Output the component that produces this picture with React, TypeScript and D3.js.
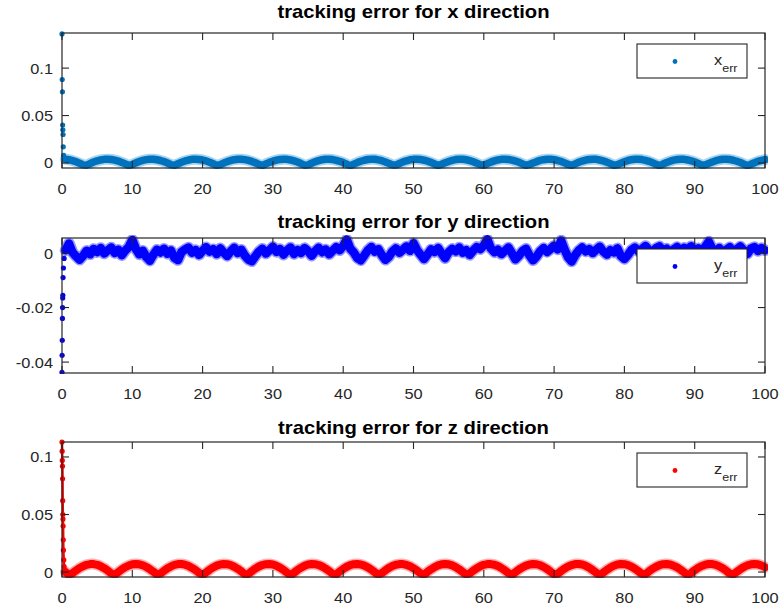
import { useEffect, useRef } from 'react';
import * as d3 from 'd3';

const W = 783;
const H = 606;
const PLOT_LEFT = 62;
const PLOT_RIGHT = 765;
const PLOT_H = 135;
const FONT = '"Liberation Sans", Arial, Helvetica, sans-serif';
const AXIS_COLOR = '#262626';

const xTickValues = [0, 10, 20, 30, 40, 50, 60, 70, 80, 90, 100];

// steady part is sampled every 0.5 s from t = 0.5 to t = 100
const sampleTimes = d3.range(1, 201).map(k => k * 0.5);

// start-up transient (dense samples close to t = 0)
const xStartTimes = [0, 0.03, 0.06, 0.09, 0.12, 0.15, 0.18, 0.22, 0.3];
const xStartValues = [0.136, 0.088, 0.075, 0.04, 0.035, 0.03, 0.017, 0.008, 0.004];
const yStartTimes = [0, 0.02, 0.04, 0.06, 0.08, 0.1, 0.12, 0.15, 0.2, 0.3];
const yStartValues = [-0.0438, -0.0375, -0.032, -0.024, -0.02, -0.0165, -0.0155, -0.009, -0.0055, -0.002];
const zStartTimes = [0, 0.02, 0.04, 0.06, 0.08, 0.1, 0.12, 0.14, 0.16, 0.18, 0.2, 0.25, 0.3, 0.4];
const zStartValues = [0.113, 0.105, 0.097, 0.092, 0.081, 0.062, 0.05, 0.046, 0.04, 0.028, 0.019, 0.0105, 0.0047, 0.0005];

const xErr = [
  0.0039, 0.0034, 0.0025, 0.0012, -0.0003, -0.0020, -0.0023, -0.0006, 0.0010, 0.0023,
  0.0032, 0.0038, 0.0040, 0.0037, 0.0030, 0.0020, 0.0006, -0.0010, -0.0027, -0.0016,
  0.0001, 0.0015, 0.0027, 0.0035, 0.0040, 0.0039, 0.0034, 0.0026, 0.0015, 0.0000,
  -0.0017, -0.0025, -0.0008, 0.0008, 0.0021, 0.0031, 0.0038, 0.0040, 0.0037, 0.0031,
  0.0021, 0.0008, -0.0008, -0.0025, -0.0018, -0.0001, 0.0014, 0.0026, 0.0035, 0.0039,
  0.0040, 0.0035, 0.0027, 0.0016, 0.0002, -0.0015, -0.0027, -0.0010, 0.0006, 0.0019,
  0.0030, 0.0037, 0.0040, 0.0038, 0.0032, 0.0022, 0.0010, -0.0006, -0.0023, -0.0020,
  -0.0003, 0.0012, 0.0025, 0.0034, 0.0039, 0.0040, 0.0036, 0.0028, 0.0018, 0.0004,
  -0.0013, -0.0030, -0.0012, 0.0004, 0.0018, 0.0029, 0.0037, 0.0040, 0.0039, 0.0033,
  0.0024, 0.0011, -0.0004, -0.0021, -0.0022, -0.0005, 0.0011, 0.0023, 0.0033, 0.0038,
  0.0040, 0.0036, 0.0029, 0.0019, 0.0006, -0.0011, -0.0028, -0.0014, 0.0002, 0.0016,
  0.0028, 0.0036, 0.0040, 0.0039, 0.0034, 0.0025, 0.0013, -0.0002, -0.0018, -0.0024,
  -0.0007, 0.0009, 0.0022, 0.0032, 0.0038, 0.0040, 0.0037, 0.0030, 0.0020, 0.0007,
  -0.0009, -0.0026, -0.0016, 0.0000, 0.0014, 0.0027, 0.0035, 0.0039, 0.0040, 0.0035,
  0.0026, 0.0016, 0.0001, -0.0016, -0.0026, -0.0009, 0.0007, 0.0020, 0.0031, 0.0037,
  0.0040, 0.0038, 0.0031, 0.0021, 0.0009, -0.0007, -0.0024, -0.0019, -0.0002, 0.0013,
  0.0026, 0.0035, 0.0039, 0.0040, 0.0036, 0.0028, 0.0017, 0.0003, -0.0014, -0.0029,
  -0.0011, 0.0005, 0.0019, 0.0030, 0.0037, 0.0040, 0.0038, 0.0032, 0.0023, 0.0010,
  -0.0005, -0.0022, -0.0021, -0.0004, 0.0011, 0.0024, 0.0034, 0.0039, 0.0040, 0.0036,
  0.0029, 0.0018, 0.0005, -0.0012, -0.0029, -0.0013, 0.0003, 0.0017, 0.0028, 0.0036,
];

const yErr = [
  0.0010, 0.0035, 0.0002, -0.0012, -0.0025, -0.0010, 0.0008, -0.0005, 0.0015, 0.0003,
  0.0018, -0.0002, 0.0010, 0.0020, 0.0000, 0.0012, -0.0008, 0.0009, 0.0022, 0.0048,
  0.0015, -0.0005, 0.0008, -0.0015, -0.0028, -0.0006, 0.0012, 0.0002, 0.0016, -0.0003,
  0.0009, -0.0018, -0.0026, 0.0004, 0.0013, 0.0020, 0.0001, 0.0011, -0.0007, 0.0008,
  0.0021, 0.0005, 0.0014, -0.0004, 0.0017, 0.0002, -0.0011, 0.0006, 0.0019, 0.0000,
  0.0012, -0.0009, -0.0024, -0.0030, -0.0012, 0.0005, 0.0016, -0.0002, 0.0010, 0.0023,
  0.0004, 0.0015, -0.0006, 0.0009, 0.0020, -0.0004, 0.0011, 0.0000, 0.0018, 0.0007,
  -0.0010, 0.0006, 0.0019, 0.0003, 0.0013, -0.0005, 0.0008, 0.0021, 0.0010, 0.0026,
  0.0049, 0.0016, 0.0002, -0.0018, -0.0027, -0.0009, 0.0010, 0.0022, 0.0005, 0.0014,
  -0.0008, -0.0025, -0.0014, 0.0006, 0.0017, 0.0001, 0.0012, 0.0024, 0.0008, 0.0036,
  0.0011, -0.0006, -0.0022, -0.0005, 0.0013, 0.0004, 0.0018, -0.0002, -0.0019, 0.0003,
  0.0015, 0.0006, 0.0020, 0.0001, 0.0010, -0.0007, 0.0009, 0.0022, 0.0014, 0.0028,
  0.0050, 0.0017, 0.0003, 0.0012, -0.0004, 0.0008, 0.0020, -0.0001, -0.0023, -0.0010,
  0.0007, 0.0016, -0.0009, -0.0027, -0.0013, 0.0006, 0.0018, 0.0004, 0.0015, 0.0027,
  0.0013, 0.0046, 0.0012, -0.0016, -0.0031, -0.0008, 0.0009, 0.0020, 0.0006, 0.0014,
  0.0000, 0.0012, 0.0023, 0.0005, -0.0006, 0.0010, 0.0002, 0.0017, -0.0011, -0.0022,
  -0.0007, 0.0011, 0.0020, 0.0006, 0.0015, 0.0026, 0.0010, 0.0003, 0.0018, 0.0024,
  0.0009, 0.0016, 0.0002, 0.0013, 0.0022, 0.0007, 0.0019, 0.0011, 0.0025, 0.0008,
  0.0017, 0.0004, 0.0023, 0.0042, 0.0015, 0.0006, 0.0018, 0.0001, 0.0012, 0.0021,
  0.0005, 0.0014, 0.0024, 0.0009, -0.0003, 0.0016, 0.0022, 0.0007, 0.0018, 0.0010,
];

const zErr = [
  0.0000, -0.0025, -0.0010, 0.0014, 0.0035, 0.0051, 0.0063, 0.0069, 0.0069, 0.0063,
  0.0051, 0.0034, 0.0013, -0.0011, -0.0024, 0.0000, 0.0023, 0.0042, 0.0057, 0.0067,
  0.0070, 0.0067, 0.0059, 0.0044, 0.0025, 0.0003, -0.0022, -0.0013, 0.0011, 0.0032,
  0.0049, 0.0062, 0.0069, 0.0070, 0.0064, 0.0053, 0.0036, 0.0016, -0.0008, -0.0027,
  -0.0003, 0.0020, 0.0040, 0.0056, 0.0066, 0.0070, 0.0068, 0.0060, 0.0046, 0.0028,
  0.0006, -0.0019, -0.0017, 0.0008, 0.0030, 0.0048, 0.0061, 0.0068, 0.0070, 0.0065,
  0.0054, 0.0039, 0.0019, -0.0005, -0.0029, -0.0006, 0.0018, 0.0038, 0.0054, 0.0065,
  0.0070, 0.0068, 0.0061, 0.0048, 0.0030, 0.0009, -0.0016, -0.0020, 0.0005, 0.0027,
  0.0046, 0.0060, 0.0068, 0.0070, 0.0066, 0.0056, 0.0041, 0.0021, -0.0002, -0.0026,
  -0.0009, 0.0015, 0.0036, 0.0052, 0.0064, 0.0069, 0.0069, 0.0062, 0.0050, 0.0033,
  0.0012, -0.0012, -0.0023, 0.0002, 0.0024, 0.0043, 0.0058, 0.0067, 0.0070, 0.0067,
  0.0058, 0.0043, 0.0024, 0.0001, -0.0023, -0.0012, 0.0012, 0.0033, 0.0050, 0.0063,
  0.0069, 0.0069, 0.0064, 0.0052, 0.0035, 0.0015, -0.0009, -0.0026, -0.0001, 0.0022,
  0.0041, 0.0056, 0.0066, 0.0070, 0.0068, 0.0059, 0.0045, 0.0027, 0.0004, -0.0020,
  -0.0015, 0.0009, 0.0031, 0.0049, 0.0061, 0.0069, 0.0070, 0.0065, 0.0054, 0.0038,
  0.0017, -0.0006, -0.0029, -0.0004, 0.0019, 0.0039, 0.0055, 0.0065, 0.0070, 0.0068,
  0.0061, 0.0047, 0.0029, 0.0007, -0.0017, -0.0018, 0.0006, 0.0028, 0.0046, 0.0060,
  0.0068, 0.0070, 0.0066, 0.0055, 0.0040, 0.0020, -0.0003, -0.0028, -0.0008, 0.0016,
  0.0037, 0.0053, 0.0064, 0.0070, 0.0069, 0.0062, 0.0049, 0.0032, 0.0011, -0.0014,
  -0.0021, 0.0003, 0.0025, 0.0044, 0.0059, 0.0067, 0.0070, 0.0067, 0.0057, 0.0042,
];

const panels = [
  {
    title: 'tracking error for x direction', label: 'x', color: '#0072bd', halo: '#4fa9e3',
    top: 33, titleY: 18, domain: [-0.0053, 0.137], ticks: [0, 0.05, 0.1],
    startTimes: xStartTimes, startValues: xStartValues, values: xErr, joinStart: false,
    lineW: 7.5, haloW: 11,
  },
  {
    title: 'tracking error for y direction', label: 'y', color: '#0000ff', halo: '#2d2dff',
    top: 238, titleY: 228, domain: [-0.044, 0.0055], ticks: [-0.04, -0.02, 0],
    startTimes: yStartTimes, startValues: yStartValues, values: yErr, joinStart: false,
    lineW: 8.5, haloW: 11.5,
  },
  {
    title: 'tracking error for z direction', label: 'z', color: '#ff0000', halo: '#ff5c5c',
    top: 442, titleY: 434, domain: [-0.0043, 0.113], ticks: [0, 0.05, 0.1],
    startTimes: zStartTimes, startValues: zStartValues, values: zErr, joinStart: true,
    lineW: 8, haloW: 11,
  },
];

export default function App() {
  const svgRef = useRef<SVGSVGElement>(null);

  useEffect(() => {
    if (!svgRef.current) return;
    const svg = d3.select(svgRef.current);
    svg.selectAll('*').remove();

    const x = d3.scaleLinear().domain([0, 100]).range([PLOT_LEFT, PLOT_RIGHT]);
    const tickLen = 7;

    panels.forEach((p, i) => {
      const bottom = p.top + PLOT_H;
      const y = d3.scaleLinear().domain(p.domain).range([bottom, p.top]);
      const g = svg.append('g');

      // clip just outside the box so markers on the edge still show
      const clipId = `clip-${i}`;
      g.append('clipPath').attr('id', clipId)
        .append('rect')
        .attr('x', PLOT_LEFT - 3).attr('y', p.top - 3)
        .attr('width', PLOT_RIGHT - PLOT_LEFT + 6).attr('height', PLOT_H + 4);

      const steady: [number, number][] = p.values.map((v, k) => [sampleTimes[k], v]);
      const start: [number, number][] = p.startValues.map((v, k) => [p.startTimes[k], v]);
      const line = d3.line<[number, number]>().x(d => x(d[0])).y(d => y(d[1]));

      const plot = g.append('g').attr('clip-path', `url(#${clipId})`);
      plot.append('path')
        .attr('d', line(steady))
        .attr('fill', 'none')
        .attr('stroke', p.halo)
        .attr('stroke-width', p.haloW)
        .attr('stroke-linejoin', 'round')
        .attr('stroke-linecap', 'round')
        .attr('opacity', 0.5);
      plot.append('path')
        .attr('d', line(steady))
        .attr('fill', 'none')
        .attr('stroke', p.color)
        .attr('stroke-width', p.lineW)
        .attr('stroke-linejoin', 'round')
        .attr('stroke-linecap', 'round');
      if (p.joinStart) {
        plot.append('path')
          .attr('d', line([...start, steady[0]]))
          .attr('fill', 'none')
          .attr('stroke', p.color)
          .attr('stroke-width', 2.5);
      }
      plot.selectAll('circle.pt')
        .data([...start, ...steady])
        .enter().append('circle')
        .attr('class', 'pt')
        .attr('cx', d => x(d[0]))
        .attr('cy', d => y(d[1]))
        .attr('r', 2.6)
        .attr('fill', p.color);

      // box
      g.append('rect')
        .attr('x', PLOT_LEFT).attr('y', p.top)
        .attr('width', PLOT_RIGHT - PLOT_LEFT).attr('height', PLOT_H)
        .attr('fill', 'none')
        .attr('stroke', AXIS_COLOR)
        .attr('stroke-width', 1.2);

      // inward ticks on all four sides
      xTickValues.forEach(t => {
        const tx = x(t);
        g.append('line').attr('x1', tx).attr('x2', tx).attr('y1', bottom).attr('y2', bottom - tickLen)
          .attr('stroke', AXIS_COLOR).attr('stroke-width', 1.1);
        g.append('line').attr('x1', tx).attr('x2', tx).attr('y1', p.top).attr('y2', p.top + tickLen)
          .attr('stroke', AXIS_COLOR).attr('stroke-width', 1.1);
        g.append('text')
          .attr('transform', `translate(${tx},${bottom + 26}) scale(1.09,1)`)
          .attr('text-anchor', 'middle')
          .attr('font-family', FONT)
          .attr('font-size', 15)
          .attr('fill', AXIS_COLOR)
          .text(String(t));
      });
      p.ticks.forEach(t => {
        const ty = y(t);
        g.append('line').attr('x1', PLOT_LEFT).attr('x2', PLOT_LEFT + tickLen).attr('y1', ty).attr('y2', ty)
          .attr('stroke', AXIS_COLOR).attr('stroke-width', 1.1);
        g.append('line').attr('x1', PLOT_RIGHT).attr('x2', PLOT_RIGHT - tickLen).attr('y1', ty).attr('y2', ty)
          .attr('stroke', AXIS_COLOR).attr('stroke-width', 1.1);
        g.append('text')
          .attr('transform', `translate(${PLOT_LEFT - 9},${ty + 5.5}) scale(1.09,1)`)
          .attr('text-anchor', 'end')
          .attr('font-family', FONT)
          .attr('font-size', 15)
          .attr('fill', AXIS_COLOR)
          .text(String(t));
      });

      // title
      g.append('text')
        .attr('transform', `translate(${(PLOT_LEFT + PLOT_RIGHT) / 2},${p.titleY}) scale(1.125,1)`)
        .attr('text-anchor', 'middle')
        .attr('font-family', FONT)
        .attr('font-size', 18)
        .attr('font-weight', 'bold')
        .attr('fill', '#000')
        .text(p.title);

      // legend
      const lx = PLOT_RIGHT - 18 - 110;
      const ly = p.top + 11;
      g.append('rect')
        .attr('x', lx).attr('y', ly).attr('width', 110).attr('height', 34)
        .attr('fill', '#fff')
        .attr('stroke', AXIS_COLOR)
        .attr('stroke-width', 1.1);
      g.append('circle')
        .attr('cx', lx + 38).attr('cy', ly + 17.5).attr('r', 2.4)
        .attr('fill', p.color);
      const lt = g.append('text')
        .attr('transform', `translate(${lx + 77},${ly + 21}) scale(1.09,1)`)
        .attr('font-family', FONT)
        .attr('font-size', 15)
        .attr('fill', AXIS_COLOR);
      lt.append('tspan').text(p.label);
      lt.append('tspan').attr('font-size', 11.5).attr('dy', 7).text('err');
    });
  }, []);

  return (
    <svg
      ref={svgRef}
      width={W}
      height={H}
      style={{ position: 'absolute', left: 0, top: 0, background: '#fff' }}
    />
  );
}
